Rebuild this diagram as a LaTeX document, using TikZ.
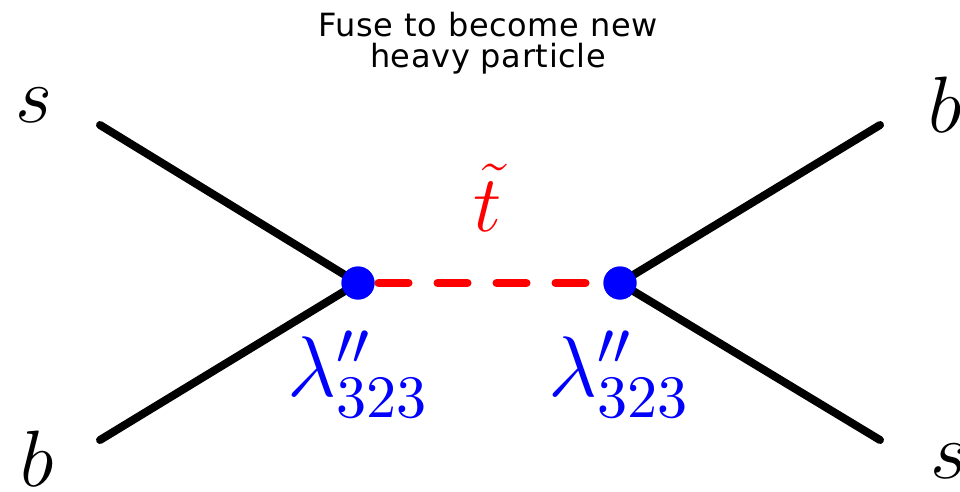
\documentclass[tikz,border=0pt]{standalone}
\usepackage{fix-cm}
\usepackage{amsmath}
\usepackage[no-math]{fontspec}
\setsansfont{DejaVu Sans}[LetterSpace=2]
\newfontfamily\digitfont{lmroman10-regular}[Extension=.otf]
\usetikzlibrary{arrows.meta}

\begin{document}
\begin{tikzpicture}[x=1pt,y=-1pt,line width=8pt,line cap=round,
  vtx/.style={circle,fill=blue,inner sep=0pt,minimum size=33pt},
  lbl/.style={inner sep=0pt,font=\fontsize{80}{96}\selectfont}]
  \useasboundingbox (0,0) rectangle (960,491);
  % titulo
  \node[align=center,font=\sffamily\fontsize{32}{31}\selectfont] (title) at (488,43)
    {Fuse to become new\\heavy particle};
  % vertices
  \node[vtx] (vl) at (358,283){};
  \node[vtx] (vr) at (620,283){};
  % quarks externos
  \coordinate (inS) at (100,125); \coordinate (inB) at (100,440);
  \coordinate (outB) at (880,125); \coordinate (outS) at (880,440);
  \draw (inS)--(vl.center); \draw (inB)--(vl.center);
  \draw (vr.center)--(outB); \draw (vr.center)--(outS);
  % propagador (stop)
  \draw[red,dash pattern=on 30pt off 29pt] (vl)--(vr);
  \node[vtx] at (vl){}; \node[vtx] at (vr){};
  % etiquetas
  \node[lbl] (ls) at (34,105){$s$};
  \node[lbl] (lb) at (37,459){$b$};
  \node[lbl] (rb) at (945,105){$b$};
  \node[lbl] (rs) at (949,461){$s$};
  \node[lbl,red] (stop) at (488,198){$\tilde{t}$};
  \node[lbl,blue,font=\fontsize{86}{100}\selectfont] (cl) at (357,375){$\lambda''_{\text{\digitfont 323}}$};
  \node[lbl,blue,font=\fontsize{86}{100}\selectfont] (cr) at (618,375){$\lambda''_{\text{\digitfont 323}}$};
\end{tikzpicture}
\end{document}
